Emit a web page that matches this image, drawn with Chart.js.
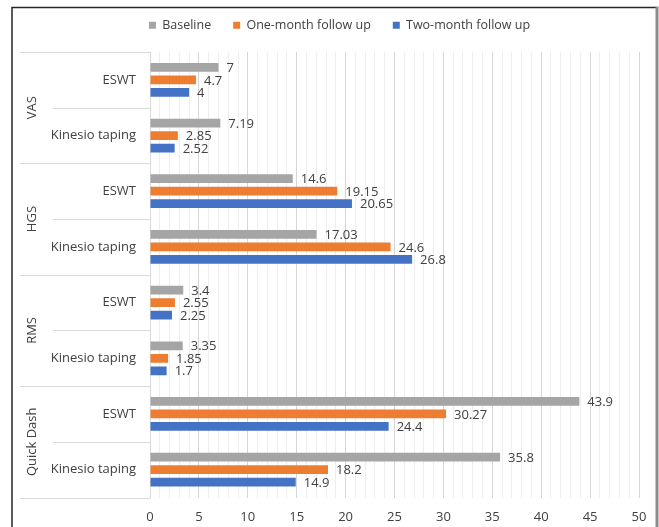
<!DOCTYPE html>
<html><head><meta charset="utf-8">
<script src="https://cdn.jsdelivr.net/npm/chart.js@4.4.0/dist/chart.umd.min.js"></script>
<style>html,body{margin:0;padding:0;background:#fff;} #wrap{width:659px;height:527px;position:relative;}</style>
</head><body><div id="wrap"><canvas id="c"></canvas></div>
<script>
const groups = ['VAS', 'HGS', 'RMS', 'Quick Dash'];
const subgroups = ['ESWT', 'Kinesio taping'];
const seriesNames = ['Baseline', 'One-month follow up', 'Two-month follow up'];
const baseline = [7, 7.19, 14.6, 17.03, 3.4, 3.35, 43.9, 35.8];
const oneMonth = [4.7, 2.85, 19.15, 24.6, 2.55, 1.85, 30.27, 18.2];
const twoMonth = [4, 2.52, 20.65, 26.8, 2.25, 1.7, 24.4, 14.9];
const xTicks = [0, 5, 10, 15, 20, 25, 30, 35, 40, 45, 50];

const colors = ['#A5A5A5', '#ED7D31', '#4472C4'];
const FONT = "'Open Sans', sans-serif";
const TXT = '#404040';

const labels = [];
groups.forEach(g => subgroups.forEach(s => labels.push(s)));

const frame = {
  id: 'frame',
  beforeDraw(chart) {
    const ctx = chart.ctx;
    ctx.save();
    ctx.strokeStyle = '#262626';
    ctx.lineWidth = 1.5;
    ctx.beginPath();
    ctx.moveTo(12, 530); ctx.lineTo(12, 7.5); ctx.lineTo(656, 7.5);
    ctx.stroke();
    ctx.strokeStyle = '#8c8c8c';
    ctx.lineWidth = 3;
    ctx.beginPath();
    ctx.moveTo(657, 6.5); ctx.lineTo(657, 530);
    ctx.stroke();
    ctx.restore();
  }
};

const legendTweak = {
  id: 'legendTweak',
  beforeLayout(chart) {
    const lg = chart.legend;
    if (lg && !lg.__p) {
      const f = lg.fit;
      lg.fit = function () { f.call(this); this.height = 52; };
      lg.__p = true;
    }
  },
  afterLayout(chart) {
    const lg = chart.legend;
    if (lg) { lg.top = -3; lg.left += 20; lg.right += 20; }
  }
};

const groupAxis = {
  id: 'groupAxis',
  afterDraw(chart) {
    const ctx = chart.ctx;
    const y = chart.scales.y;
    const area = chart.chartArea;
    const n = labels.length;
    const bounds = [];
    for (let i = 0; i <= n; i++) {
      if (i === 0) bounds.push(area.top);
      else if (i === n) bounds.push(area.bottom);
      else bounds.push((y.getPixelForValue(i - 1) + y.getPixelForValue(i)) / 2);
    }
    ctx.save();
    ctx.strokeStyle = '#d9d9d9';
    ctx.lineWidth = 1;
    bounds.forEach((b, i) => {
      const x0 = (i % subgroups.length === 0) ? 20 : 53;
      const yy = Math.round(b) + 0.5;
      ctx.beginPath(); ctx.moveTo(x0, yy); ctx.lineTo(area.left, yy); ctx.stroke();
    });
    ctx.fillStyle = TXT;
    ctx.font = '13px ' + FONT;
    ctx.textAlign = 'center';
    ctx.textBaseline = 'middle';
    groups.forEach((g, gi) => {
      const yc = (bounds[gi * subgroups.length] + bounds[(gi + 1) * subgroups.length]) / 2;
      ctx.save();
      ctx.translate(32, yc);
      ctx.rotate(-Math.PI / 2);
      ctx.fillText(g, 0, 0);
      ctx.restore();
    });
    ctx.restore();
  }
};

const valueLabels = {
  id: 'valueLabels',
  afterDatasetsDraw(chart) {
    const ctx = chart.ctx;
    ctx.save();
    ctx.fillStyle = TXT;
    ctx.font = '13px ' + FONT;
    ctx.textAlign = 'left';
    ctx.textBaseline = 'middle';
    chart.data.datasets.forEach((ds, di) => {
      const meta = chart.getDatasetMeta(di);
      meta.data.forEach((el, i) => {
        ctx.fillText(String(ds.data[i]), el.x + 8, el.y + 1);
      });
    });
    ctx.restore();
  }
};

new Chart(document.getElementById('c'), {
  type: 'bar',
  data: {
    labels: labels,
    datasets: [
      { label: seriesNames[0], data: baseline, backgroundColor: colors[0] },
      { label: seriesNames[1], data: oneMonth, backgroundColor: colors[1] },
      { label: seriesNames[2], data: twoMonth, backgroundColor: colors[2] }
    ]
  },
  options: {
    indexAxis: 'y',
    responsive: true,
    maintainAspectRatio: false,
    devicePixelRatio: 1,
    animation: false,
    categoryPercentage: 0.673,
    barPercentage: 0.7,
    layout: { padding: { left: 0, right: 20, top: 0, bottom: 0 } },
    plugins: {
      legend: {
        position: 'top',
        align: 'center',
        labels: {
          boxWidth: 7, boxHeight: 7, padding: 22,
          color: TXT,
          font: { family: FONT, size: 12.5 }
        }
      },
      tooltip: { enabled: false }
    },
    scales: {
      x: {
        min: 0, max: 50,
        afterFit: s => { s.height = 29.5; },
        ticks: {
          stepSize: 1, autoSkip: false, maxRotation: 0, padding: 12,
          color: TXT, font: { family: FONT, size: 13 },
          callback: v => xTicks.includes(v) ? String(v) : ''
        },
        grid: {
          drawTicks: false,
          color: ctx => (ctx.tick && xTicks.includes(ctx.tick.value)) ? '#d6d6d6' : '#eeeeee'
        },
        border: { display: false }
      },
      y: {
        afterFit: s => { s.width = 150; },
        ticks: { padding: 14, color: TXT, font: { family: FONT, size: 13 } },
        grid: { display: false, drawTicks: false },
        border: { display: true, color: '#d9d9d9' }
      }
    }
  },
  plugins: [frame, legendTweak, groupAxis, valueLabels]
});
</script></body></html>
